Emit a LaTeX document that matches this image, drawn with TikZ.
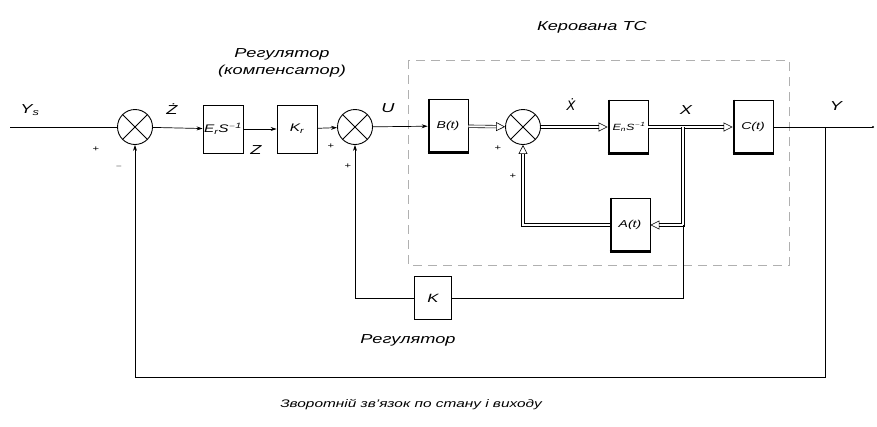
\documentclass[tikz,border=0pt]{standalone}
\usepackage{fontspec}
\setmainfont{Liberation Sans}[FakeStretch=1.4]
\newfontfamily\dvfont{DejaVu Sans}
\usetikzlibrary{arrows.meta,positioning,calc}
\definecolor{ctrlGrey}{HTML}{b0b0b0}
\tikzset{
  >={Stealth[length=6pt,width=4pt]},
  blk/.style={draw, line width=0.8pt, minimum width=40pt, minimum height=48pt,
              inner sep=1pt, font=\fontsize{11}{13}\selectfont\itshape},
  plant/.style={blk, minimum height=54pt, font=\fontsize{10}{12}\selectfont\itshape},
  sumnode/.style={draw, circle, line width=0.9pt, minimum size=35pt, inner sep=0pt,
              path picture={\draw[line width=0.9pt]
                (path picture bounding box.north west)--(path picture bounding box.south east)
                (path picture bounding box.north east)--(path picture bounding box.south west);}},
  sig/.style={line width=0.7pt},
  vec/.style={double, double distance=2pt, line width=0.6pt},
  vtip/.style={-{Triangle[open,length=9pt,width=9pt]}},
  lbl/.style={font=\fontsize{13}{17}\selectfont\itshape},
  slbl/.style={font=\fontsize{11}{13}\selectfont\itshape},
  sgn/.style={font=\fontsize{8}{9}\selectfont},
}

\begin{document}
\begin{tikzpicture}[x=1pt,y=-1pt]
  \useasboundingbox (0,0) rectangle (877,426);
  % forward path
  \coordinate (in) at (10,127);
  \node[sumnode] (s1) at (135,127) {};
  \node[blk, inner sep=0pt] (eps) at (223,129) {E\textsubscript{r}S\textsuperscript{$-$1}};
  \node[blk] (kr) at (297,129) {K\textsubscript{r}};
  \node[sumnode] (s2) at (355,127) {};
  \node[plant] (bt) at (448,126) {B(t)};
  \node[sumnode] (s3) at (523,127) {};
  \node[plant, inner sep=0pt, font=\fontsize{9}{11}\selectfont\itshape] (int) at (628,127)
    {\hspace{2pt}E\textsubscript{n}S\textsuperscript{$-$1}};
  \node[plant] (ct) at (753,127) {C(t)};
  \node[plant] (at) at (630,225) {A(t)};
  \node[blk, minimum width=37pt, minimum height=43pt, font=\fontsize{12}{14}\selectfont\itshape]
    (k) at (433,298) {K};
  \coordinate (out) at (873,127);
  \coordinate (xb) at (683,127);
  \coordinate (yb) at (825,127);
  \coordinate (xk) at (683,225);

  % thick edges of the plant blocks
  \foreach \n in {bt,int,ct,at} {
    \draw[line width=2.4pt] ([xshift=1.2pt]\n.north west) -- ([xshift=1.2pt]\n.south west);
    \draw[line width=1.6pt] ([yshift=1.2pt]\n.south west) -- ([yshift=1.2pt]\n.south east);
  }

  % controlled plant boundary
  \draw[ctrlGrey, dashed, dash pattern=on 9pt off 6pt, line width=0.6pt]
    (408,60) rectangle (789,265);

  \draw[sig] (in) -- (s1);
  \draw[sig,->] (s1) -- (eps);
  \draw[sig,->] (eps) -- (kr);
  \draw[sig,->] (kr) -- (s2);
  \draw[sig,->] (s2) -- (bt);
  \draw[vec,vtip] (bt) -- (s3);
  \draw[vec,vtip] (s3) -- (int);
  \draw[vec,vtip] (int) -- (ct);
  \draw[sig] (ct) -- (out);
  \fill (out) circle (1.2pt);

  % internal feedback through A(t)
  \draw[vec,vtip] (xb) -- (xk) -- (at.east);
  \draw[vec,vtip] (at.west) -| (s3.south);

  % state feedback through K
  \draw[sig] (xk) |- (k.east);
  \draw[sig,->] (k.west) -| (s2.south);

  % output feedback
  \draw[sig,->] (yb) -- (825,377) -| (s1.south);

  % signal labels
  \node[lbl] at (30,110) {Y\textsubscript{s}};
  \node[lbl] at (172,109) {Ż};
  \node[lbl] at (256,150) {Z};
  \node[lbl] at (388,108) {U};
  \node[lbl] at (571,105) {{\dvfont\itshape Ẋ}};
  \node[lbl] at (686,110) {X};
  \node[lbl] at (836,106) {Y};

  % signs
  \node[sgn] at (96,149) {+};
  \node[sgn] at (119,166) {$-$};
  \node[sgn] at (331,146) {+};
  \node[sgn] at (348,166) {+};
  \node[sgn] at (498,148) {+};
  \node[sgn] at (513,176) {+};

  % captions
  \node[lbl, align=center] at (282,63) {Регулятор\\(компенсатор)};
  \node[lbl] at (592,27) {Керована ТС};
  \node[lbl] at (408,340) {Регулятор};
  \node[slbl] at (411,405) {Зворотній зв'язок по стану і виходу};
\end{tikzpicture}
\end{document}
